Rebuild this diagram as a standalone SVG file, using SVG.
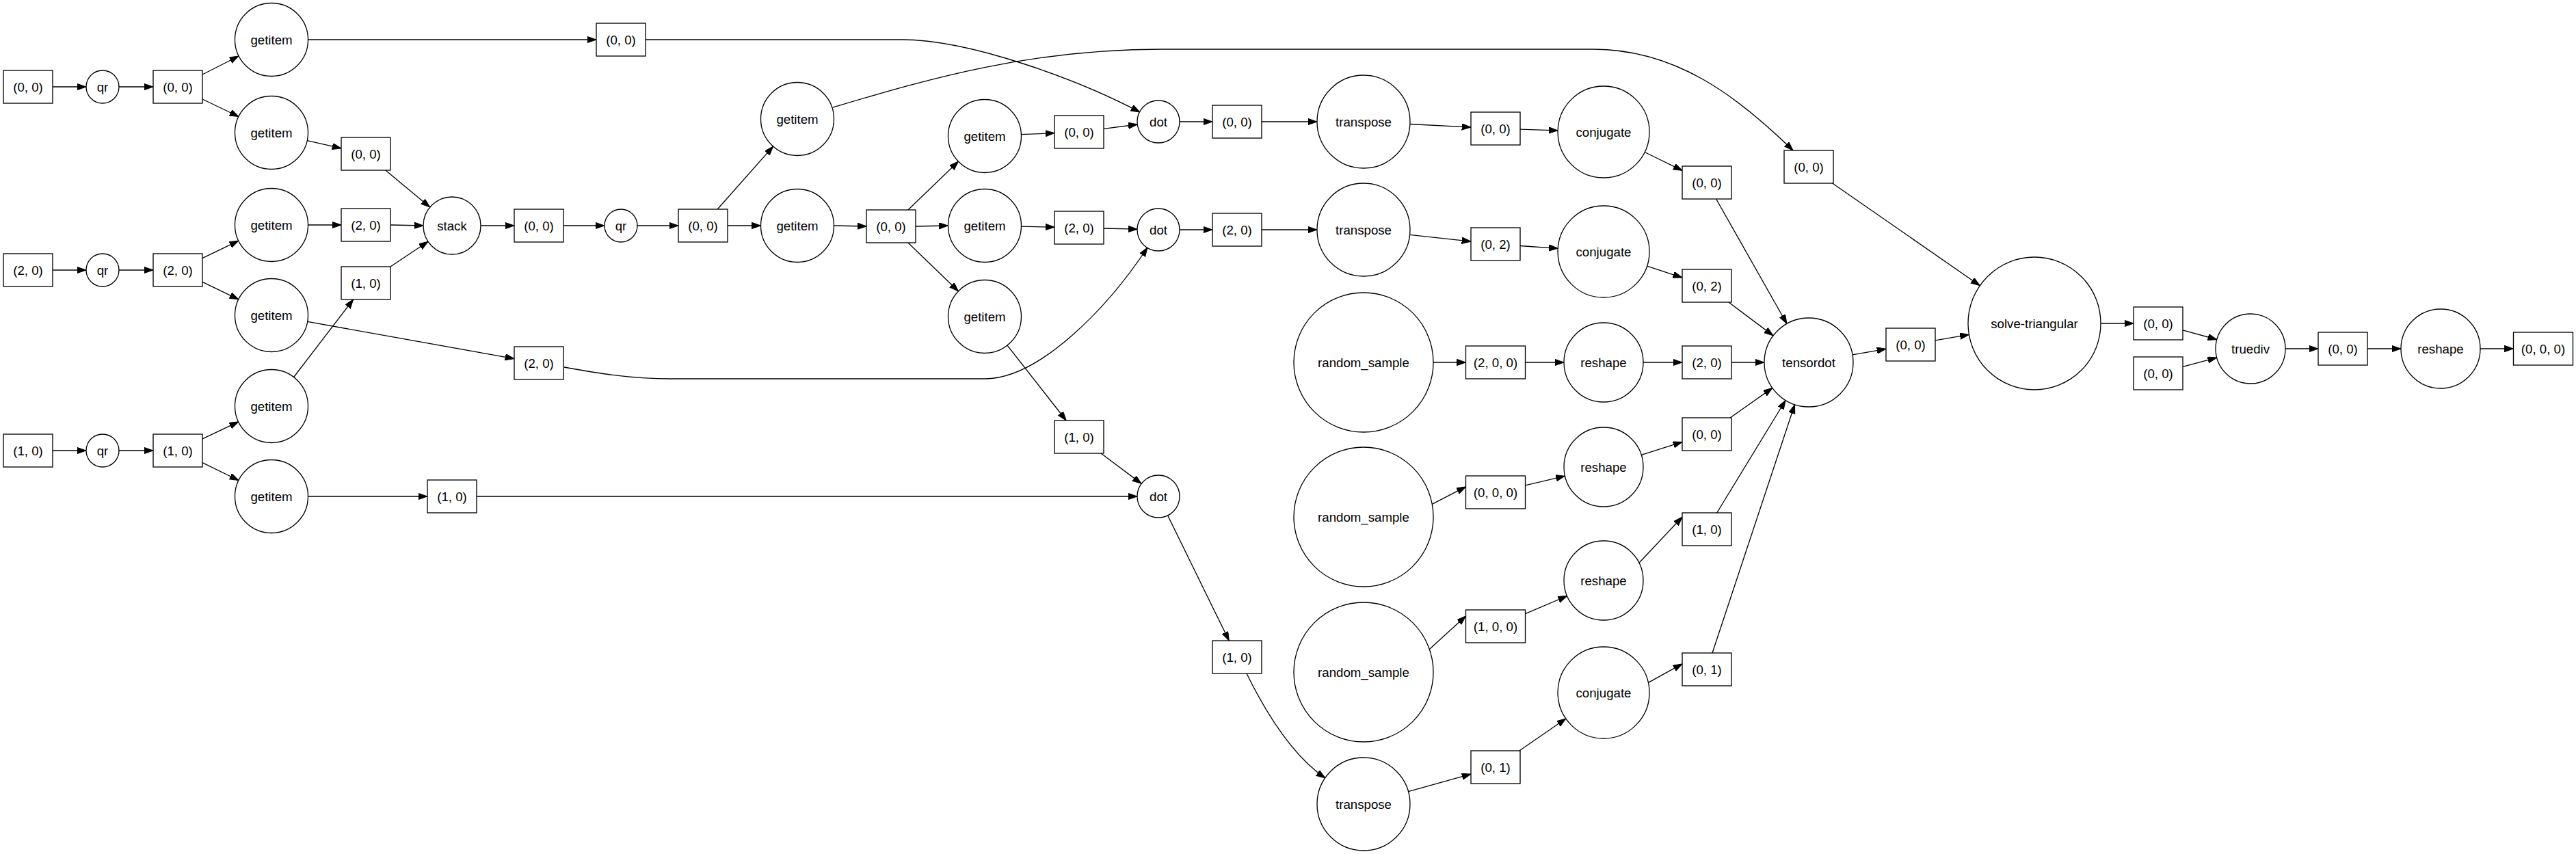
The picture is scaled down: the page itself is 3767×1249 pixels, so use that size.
<svg xmlns="http://www.w3.org/2000/svg" width="3767" height="1249" viewBox="0 0 3767 1249">
<style>
.n{fill:#fff;stroke:#000;stroke-width:1.33}
.e{fill:none;stroke:#000;stroke-width:1.33;marker-end:url(#ah)}
text{font-family:"Liberation Sans",Arial,Helvetica,sans-serif;font-size:18.67px;text-anchor:middle;fill:#000}
</style>
<defs>
<marker id="ah" markerUnits="userSpaceOnUse" markerWidth="14" markerHeight="10" refX="13.3" refY="4.67" orient="auto">
<path d="M0,0 L13.3,4.67 L0,9.33 z" fill="#000" stroke="#000" stroke-width="1"/>
</marker>
</defs>
<rect x="0" y="0" width="3767" height="1249" fill="#fff"/>
<g id="edges">
<path class="e" d="M77,127 L126,127"/>
<path class="e" d="M174,127 L224,127"/>
<path class="e" d="M296,109 L349,82"/>
<path class="e" d="M296,145 L349,170.5"/>
<path class="e" d="M77,395 L126,395"/>
<path class="e" d="M174,395 L224,395"/>
<path class="e" d="M296,377.7 L348.8,352.2"/>
<path class="e" d="M296,412.3 L348.8,437.8"/>
<path class="e" d="M77,659 L126,659"/>
<path class="e" d="M174,659 L224,659"/>
<path class="e" d="M296,641.9 L348.7,616.9"/>
<path class="e" d="M296,676.6 L348.9,702.5"/>
<path class="e" d="M450.5,58 L872,58"/>
<path class="e" d="M944,58 L1319,58 C1420,58 1580,118 1667,164"/>
<path class="e" d="M449.2,205.7 L499,216.9"/>
<path class="e" d="M563.8,249 L628.7,303.1"/>
<path class="e" d="M450.5,329 L499,329"/>
<path class="e" d="M571,329 L619,330"/>
<path class="e" d="M429.6,551.5 L516.6,438"/>
<path class="e" d="M571,390 L626,353.3"/>
<path class="e" d="M449.7,470.4 L752,524.6"/>
<path class="e" d="M825,537 C870,545 920,554 980,554 L1440,554 C1520,554 1620,450 1678,362"/>
<path class="e" d="M450.5,726 L625,726"/>
<path class="e" d="M697,726 L1663,726"/>
<path class="e" d="M703,330 L752,330"/>
<path class="e" d="M824,330 L884,330"/>
<path class="e" d="M932,330 L992,330"/>
<path class="e" d="M1049.2,306 L1130.6,214.1"/>
<path class="e" d="M1064,330 L1112.5,330"/>
<path class="e" d="M1218,157 C1350,118 1500,72 1700,72 L2330,72 C2450,72 2540,140 2622,220"/>
<path class="e" d="M1219.5,330 L1267,331"/>
<path class="e" d="M1327.9,307 L1401.5,236.1"/>
<path class="e" d="M1339,331 L1386.5,330"/>
<path class="e" d="M1327.9,355 L1401.5,425.9"/>
<path class="e" d="M1493.5,196.7 L1542,194.6"/>
<path class="e" d="M1614,188.3 L1663.3,182"/>
<path class="e" d="M1493.5,331.2 L1542,332.2"/>
<path class="e" d="M1614,334 L1663,335.2"/>
<path class="e" d="M1473,505.1 L1559.2,615"/>
<path class="e" d="M1610,663 L1669.2,707.4"/>
<path class="e" d="M1725,178 L1773,178"/>
<path class="e" d="M1845,178 L1926,178"/>
<path class="e" d="M2062,181.5 L2151,186.1"/>
<path class="e" d="M2223,189.1 L2278,190.9"/>
<path class="e" d="M2405.1,222.5 L2460,249.4"/>
<path class="e" d="M2509.6,291 L2613,473.5"/>
<path class="e" d="M1725,336 L1773,336"/>
<path class="e" d="M1845,336 L1926,336"/>
<path class="e" d="M2061.6,343.4 L2151,353.1"/>
<path class="e" d="M2223,359.5 L2278.2,363.3"/>
<path class="e" d="M2408.6,389.1 L2460,406.1"/>
<path class="e" d="M2527.9,442 L2593,490.9"/>
<path class="e" d="M2096,530 L2143.5,530"/>
<path class="e" d="M2230.5,530 L2287,530"/>
<path class="e" d="M2403,530 L2460,530"/>
<path class="e" d="M2532,530 L2580,530"/>
<path class="e" d="M2094.3,737.3 L2143.5,711.9"/>
<path class="e" d="M2230.5,709.8 L2288.5,696.2"/>
<path class="e" d="M2400.3,665.4 L2460,646.4"/>
<path class="e" d="M2530.1,611 L2591.9,567.4"/>
<path class="e" d="M2090.4,949.5 L2143.5,900.9"/>
<path class="e" d="M2230.5,897.6 L2291.6,871.6"/>
<path class="e" d="M2396.9,823.2 L2460,756.1"/>
<path class="e" d="M2510.7,750 L2611.1,585.5"/>
<path class="e" d="M1707.6,753.8 L1797.3,937"/>
<path class="e" d="M1823,985 C1850,1040 1890,1105 1938,1138"/>
<path class="e" d="M2059.5,1157.7 L2151,1132.1"/>
<path class="e" d="M2221.8,1098 L2289.9,1051"/>
<path class="e" d="M2410.4,998.3 L2460,970.9"/>
<path class="e" d="M2504,955 L2624.5,591.7"/>
<path class="e" d="M2709,518.8 L2758,510.3"/>
<path class="e" d="M2679.6,268 L2895.3,417.7"/>
<path class="e" d="M2830,497.8 L2879.4,489.4"/>
<path class="e" d="M3072,473 L3120,473"/>
<path class="e" d="M3192,482.9 L3241.8,496.5"/>
<path class="e" d="M3192,536.4 L3241.7,523.1"/>
<path class="e" d="M3342,510 L3390,510"/>
<path class="e" d="M3462,510 L3511,510"/>
<path class="e" d="M3627,510 L3675.5,510"/>
</g>
<g id="in00"><rect class="n" x="5" y="103" width="72" height="48"/><text x="41" y="133.5">(0, 0)</text></g>
<g id="in20"><rect class="n" x="5" y="371" width="72" height="48"/><text x="41" y="401.5">(2, 0)</text></g>
<g id="in10"><rect class="n" x="5" y="635" width="72" height="48"/><text x="41" y="665.5">(1, 0)</text></g>
<g id="qr1"><circle class="n" cx="150" cy="127" r="24"/><text x="150" y="133.5">qr</text></g>
<g id="qr2"><circle class="n" cx="150" cy="395" r="24"/><text x="150" y="401.5">qr</text></g>
<g id="qr3"><circle class="n" cx="150" cy="659" r="24"/><text x="150" y="665.5">qr</text></g>
<g id="b4"><rect class="n" x="224" y="103" width="72" height="48"/><text x="260" y="133.5">(0, 0)</text></g>
<g id="b5"><rect class="n" x="224" y="371" width="72" height="48"/><text x="260" y="401.5">(2, 0)</text></g>
<g id="b6"><rect class="n" x="224" y="635" width="72" height="48"/><text x="260" y="665.5">(1, 0)</text></g>
<g id="g1"><circle class="n" cx="397" cy="58" r="53.5"/><text x="397" y="64.5">getitem</text></g>
<g id="g2"><circle class="n" cx="397" cy="194" r="53.5"/><text x="397" y="200.5">getitem</text></g>
<g id="g3"><circle class="n" cx="397" cy="329" r="53.5"/><text x="397" y="335.5">getitem</text></g>
<g id="g4"><circle class="n" cx="397" cy="461" r="53.5"/><text x="397" y="467.5">getitem</text></g>
<g id="g5"><circle class="n" cx="397" cy="594" r="53.5"/><text x="397" y="600.5">getitem</text></g>
<g id="g6"><circle class="n" cx="397" cy="726" r="53.5"/><text x="397" y="732.5">getitem</text></g>
<g id="b7"><rect class="n" x="872" y="34" width="72" height="48"/><text x="908" y="64.5">(0, 0)</text></g>
<g id="b8"><rect class="n" x="499" y="201" width="72" height="48"/><text x="535" y="231.5">(0, 0)</text></g>
<g id="b9"><rect class="n" x="499" y="305" width="72" height="48"/><text x="535" y="335.5">(2, 0)</text></g>
<g id="b10"><rect class="n" x="499" y="390" width="72" height="48"/><text x="535" y="420.5">(1, 0)</text></g>
<g id="b11"><rect class="n" x="752" y="507" width="72" height="48"/><text x="788" y="537.5">(2, 0)</text></g>
<g id="b12"><rect class="n" x="625" y="702" width="72" height="48"/><text x="661" y="732.5">(1, 0)</text></g>
<g id="stack"><circle class="n" cx="661" cy="330" r="42"/><text x="661" y="336.5">stack</text></g>
<g id="b13"><rect class="n" x="752" y="306" width="72" height="48"/><text x="788" y="336.5">(0, 0)</text></g>
<g id="qr4"><circle class="n" cx="908" cy="330" r="24"/><text x="908" y="336.5">qr</text></g>
<g id="b14"><rect class="n" x="992" y="306" width="72" height="48"/><text x="1028" y="336.5">(0, 0)</text></g>
<g id="gA"><circle class="n" cx="1166" cy="174" r="53.5"/><text x="1166" y="180.5">getitem</text></g>
<g id="gB"><circle class="n" cx="1166" cy="330" r="53.5"/><text x="1166" y="336.5">getitem</text></g>
<g id="b15"><rect class="n" x="1267" y="307" width="72" height="48"/><text x="1303" y="337.5">(0, 0)</text></g>
<g id="gC"><circle class="n" cx="1440" cy="199" r="53.5"/><text x="1440" y="205.5">getitem</text></g>
<g id="gD"><circle class="n" cx="1440" cy="330" r="53.5"/><text x="1440" y="336.5">getitem</text></g>
<g id="gE"><circle class="n" cx="1440" cy="463" r="53.5"/><text x="1440" y="469.5">getitem</text></g>
<g id="b16"><rect class="n" x="1542" y="169" width="72" height="48"/><text x="1578" y="199.5">(0, 0)</text></g>
<g id="b17"><rect class="n" x="1542" y="309" width="72" height="48"/><text x="1578" y="339.5">(2, 0)</text></g>
<g id="b18"><rect class="n" x="1542" y="615" width="72" height="48"/><text x="1578" y="645.5">(1, 0)</text></g>
<g id="dot1"><circle class="n" cx="1694" cy="178" r="31"/><text x="1694" y="184.5">dot</text></g>
<g id="dot2"><circle class="n" cx="1694" cy="336" r="31"/><text x="1694" y="342.5">dot</text></g>
<g id="dot3"><circle class="n" cx="1694" cy="726" r="31"/><text x="1694" y="732.5">dot</text></g>
<g id="b19"><rect class="n" x="1773" y="154" width="72" height="48"/><text x="1809" y="184.5">(0, 0)</text></g>
<g id="b20"><rect class="n" x="1773" y="312" width="72" height="48"/><text x="1809" y="342.5">(2, 0)</text></g>
<g id="b21"><rect class="n" x="1773" y="937" width="72" height="48"/><text x="1809" y="967.5">(1, 0)</text></g>
<g id="tr1"><circle class="n" cx="1994" cy="178" r="68"/><text x="1994" y="184.5">transpose</text></g>
<g id="tr2"><circle class="n" cx="1994" cy="336" r="68"/><text x="1994" y="342.5">transpose</text></g>
<g id="tr3"><circle class="n" cx="1994" cy="1176" r="68"/><text x="1994" y="1182.5">transpose</text></g>
<g id="rs1"><circle class="n" cx="1994" cy="530" r="102"/><text x="1994" y="536.5">random_sample</text></g>
<g id="rs2"><circle class="n" cx="1994" cy="756" r="102"/><text x="1994" y="762.5">random_sample</text></g>
<g id="rs3"><circle class="n" cx="1994" cy="983" r="102"/><text x="1994" y="989.5">random_sample</text></g>
<g id="b22"><rect class="n" x="2151" y="164" width="72" height="48"/><text x="2187" y="194.5">(0, 0)</text></g>
<g id="b23"><rect class="n" x="2151" y="333" width="72" height="48"/><text x="2187" y="363.5">(0, 2)</text></g>
<g id="b24"><rect class="n" x="2143.5" y="506" width="87" height="48"/><text x="2187" y="536.5">(2, 0, 0)</text></g>
<g id="b25"><rect class="n" x="2143.5" y="696" width="87" height="48"/><text x="2187" y="726.5">(0, 0, 0)</text></g>
<g id="b26"><rect class="n" x="2143.5" y="892" width="87" height="48"/><text x="2187" y="922.5">(1, 0, 0)</text></g>
<g id="b27"><rect class="n" x="2151" y="1098" width="72" height="48"/><text x="2187" y="1128.5">(0, 1)</text></g>
<g id="cj1"><circle class="n" cx="2345" cy="193" r="67"/><text x="2345" y="199.5">conjugate</text></g>
<g id="cj2"><circle class="n" cx="2345" cy="368" r="67"/><text x="2345" y="374.5">conjugate</text></g>
<g id="cj3"><circle class="n" cx="2345" cy="1013" r="67"/><text x="2345" y="1019.5">conjugate</text></g>
<g id="rh1"><circle class="n" cx="2345" cy="530" r="58"/><text x="2345" y="536.5">reshape</text></g>
<g id="rh2"><circle class="n" cx="2345" cy="683" r="58"/><text x="2345" y="689.5">reshape</text></g>
<g id="rh3"><circle class="n" cx="2345" cy="849" r="58"/><text x="2345" y="855.5">reshape</text></g>
<g id="b28"><rect class="n" x="2460" y="243" width="72" height="48"/><text x="2496" y="273.5">(0, 0)</text></g>
<g id="b29"><rect class="n" x="2460" y="394" width="72" height="48"/><text x="2496" y="424.5">(0, 2)</text></g>
<g id="b30"><rect class="n" x="2460" y="506" width="72" height="48"/><text x="2496" y="536.5">(2, 0)</text></g>
<g id="b31"><rect class="n" x="2460" y="611" width="72" height="48"/><text x="2496" y="641.5">(0, 0)</text></g>
<g id="b32"><rect class="n" x="2460" y="750" width="72" height="48"/><text x="2496" y="780.5">(1, 0)</text></g>
<g id="b33"><rect class="n" x="2460" y="955" width="72" height="48"/><text x="2496" y="985.5">(0, 1)</text></g>
<g id="tensordot"><circle class="n" cx="2645" cy="530" r="65"/><text x="2645" y="536.5">tensordot</text></g>
<g id="b34"><rect class="n" x="2609" y="220" width="72" height="48"/><text x="2645" y="250.5">(0, 0)</text></g>
<g id="b35"><rect class="n" x="2758" y="480" width="72" height="48"/><text x="2794" y="510.5">(0, 0)</text></g>
<g id="solve"><circle class="n" cx="2975" cy="473" r="97"/><text x="2975" y="479.5">solve-triangular</text></g>
<g id="b36"><rect class="n" x="3120" y="449" width="72" height="48"/><text x="3156" y="479.5">(0, 0)</text></g>
<g id="b37"><rect class="n" x="3120" y="522" width="72" height="48"/><text x="3156" y="552.5">(0, 0)</text></g>
<g id="truediv"><circle class="n" cx="3291" cy="510" r="51"/><text x="3291" y="516.5">truediv</text></g>
<g id="b38"><rect class="n" x="3390" y="486" width="72" height="48"/><text x="3426" y="516.5">(0, 0)</text></g>
<g id="rh4"><circle class="n" cx="3569" cy="510" r="58"/><text x="3569" y="516.5">reshape</text></g>
<g id="b39"><rect class="n" x="3675.5" y="486" width="87" height="48"/><text x="3719" y="516.5">(0, 0, 0)</text></g>
</svg>
